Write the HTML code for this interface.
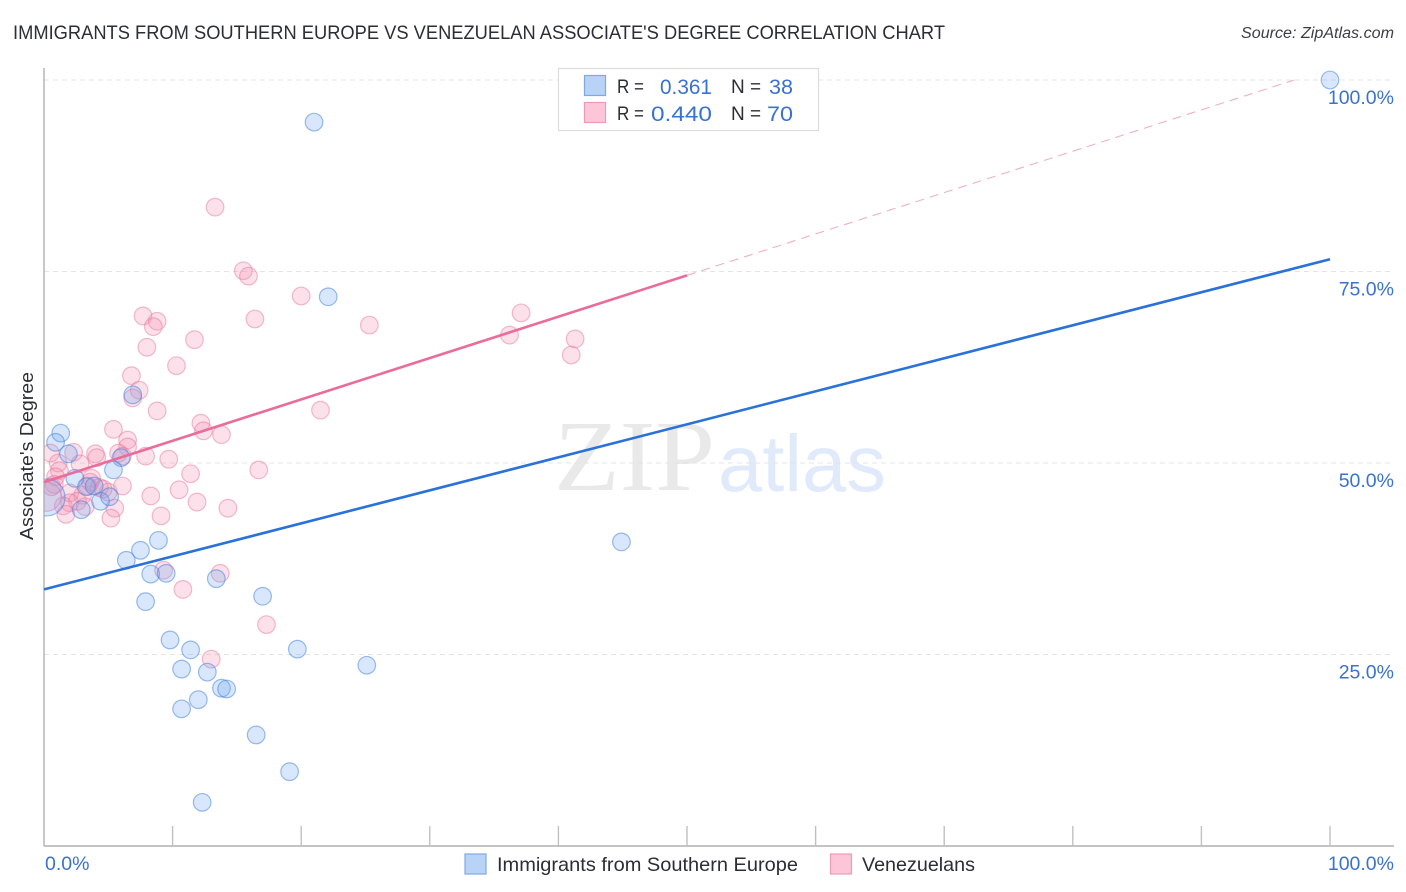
<!DOCTYPE html>
<html lang="en">
<head>
<meta charset="utf-8">
<title>Immigrants from Southern Europe vs Venezuelan Associate's Degree Correlation Chart</title>
<style>
html,body{margin:0;padding:0;background:#fff;}
svg{display:block;font-family:"Liberation Sans",sans-serif;}
</style>
</head>
<body>
<svg id="chart" width="1406" height="892" viewBox="0 0 1406 892" xmlns="http://www.w3.org/2000/svg">
  <defs><clipPath id="plot-clip"><rect x="44.5" y="60" width="1350" height="786"/></clipPath></defs>
  <rect width="1406" height="892" fill="#ffffff"/>
  <text x="13" y="39" font-size="19.5" fill="#2a2e35" textLength="932" lengthAdjust="spacingAndGlyphs">IMMIGRANTS FROM SOUTHERN EUROPE VS VENEZUELAN ASSOCIATE'S DEGREE CORRELATION CHART</text>
  <text x="1241" y="38" font-size="15.5" font-style="italic" fill="#3a3f47" textLength="153" lengthAdjust="spacingAndGlyphs">Source: ZipAtlas.com</text>
  <text x="554" y="490" font-size="101" font-family="'Liberation Serif',serif" fill="#e9e9e9" textLength="161" lengthAdjust="spacingAndGlyphs">ZIP</text>
  <text x="718" y="491" font-size="80" fill="#e0eafa" textLength="168" lengthAdjust="spacingAndGlyphs">atlas</text>
  <g id="grid"></g>
  <g id="axes"></g>
  <g id="points" clip-path="url(#plot-clip)"></g>
  <g id="trends"></g>
  <g id="labels"></g>
  <text transform="translate(33,456) rotate(-90)" font-size="18" fill="#2a2e35" text-anchor="middle" textLength="168" lengthAdjust="spacingAndGlyphs">Associate's Degree</text>

  <g>
    <rect x="558.5" y="68.5" width="260" height="62" fill="#ffffff" stroke="#dcdcdc" stroke-width="1.2"/>
    <rect x="584.5" y="75.5" width="21" height="20" fill="#b9d3f6" stroke="#7ea9e4" stroke-width="1.2"/>
    <rect x="584.5" y="102.5" width="21" height="20" fill="#fcc6d8" stroke="#f09ab8" stroke-width="1.2"/>
    <text x="617" y="93" font-size="19" fill="#2a2e35" textLength="27" lengthAdjust="spacingAndGlyphs">R =</text>
    <text x="660" y="94" font-size="21" fill="#3a72d0" textLength="52" lengthAdjust="spacingAndGlyphs">0.361</text>
    <text x="731" y="93" font-size="19" fill="#2a2e35">N =</text>
    <text x="769" y="94" font-size="21" fill="#3a72d0" textLength="24" lengthAdjust="spacingAndGlyphs">38</text>
    <text x="617" y="120" font-size="19" fill="#2a2e35" textLength="27" lengthAdjust="spacingAndGlyphs">R =</text>
    <text x="651" y="121" font-size="21" fill="#3a72d0" textLength="61" lengthAdjust="spacingAndGlyphs">0.440</text>
    <text x="731" y="120" font-size="19" fill="#2a2e35">N =</text>
    <text x="767" y="121" font-size="21" fill="#3a72d0" textLength="26" lengthAdjust="spacingAndGlyphs">70</text>
  </g>

  <g>
    <rect x="465" y="854" width="21" height="20" fill="#b9d3f6" stroke="#7ea9e4" stroke-width="1.2"/>
    <text x="497" y="871" font-size="19.5" fill="#2a2e35" textLength="301" lengthAdjust="spacingAndGlyphs">Immigrants from Southern Europe</text>
    <rect x="830.5" y="854" width="21" height="20" fill="#fcc6d8" stroke="#f09ab8" stroke-width="1.2"/>
    <text x="862" y="871" font-size="19.5" fill="#2a2e35" textLength="113" lengthAdjust="spacingAndGlyphs">Venezuelans</text>
  </g>
</svg>
<script>
// Chart data (percent values)
const blueX = [100,21.0,22.1,44.9,25.1,19.7,17.0,13.4,8.9,7.5,6.4,8.3,9.5,7.9,9.8,11.4,10.7,12.7,13.8,14.2,12.0,10.7,16.5,19.1,12.3,6.9,1.3,0.9,1.9,6.0,5.4,2.4,3.3,3.9,4.4,5.1,2.9,0.2];
const blueY = [100,94.5,71.7,39.7,23.6,25.7,32.6,34.9,39.9,38.6,37.3,35.5,35.6,31.9,26.9,25.6,23.1,22.7,20.6,20.5,19.1,17.9,14.5,9.7,5.7,58.9,53.9,52.7,51.2,50.7,49.1,48.0,46.9,47.0,45.0,45.6,43.9,45.5];
const blueWeight = [1,1,1,1,1,1,1,1,1,1,1,1,1,1,1,1,1,1,1,1,1,1,1,1,1,1,1,1,1,1,1,1,1,1,1,1,1,2.1];
const pinkX = [13.3,15.5,15.9,20.0,16.4,7.7,8.8,8.5,25.3,37.1,36.2,41.3,41.0,11.7,8.0,10.3,6.8,7.4,6.9,8.8,21.5,12.2,12.4,13.8,5.4,6.5,6.5,5.8,6.1,7.9,2.3,4.0,4.1,0.5,1.1,2.8,1.2,9.7,16.7,11.4,0.9,3.7,3.6,0.8,6.1,10.5,8.3,5.0,3.0,2.0,4.3,11.9,14.3,2.0,1.5,3.2,5.5,9.1,1.7,5.2,0.2,9.3,13.7,10.8,17.3,13.0,0.6,4.6,2.6,3.4];
const pinkY = [83.4,75.1,74.4,71.8,68.8,69.2,68.5,67.8,68.0,69.6,66.7,66.2,64.1,66.1,65.1,62.7,61.4,59.5,58.5,56.8,56.9,55.2,54.2,53.7,54.4,53.0,52.1,51.3,50.9,50.9,51.4,51.2,50.7,51.3,50.0,49.9,49.0,50.5,49.1,48.6,48.2,48.0,47.5,47.2,47.0,46.5,45.7,46.2,45.8,46.1,46.8,44.9,44.1,44.8,44.4,44.3,44.1,43.1,43.3,42.8,45.6,36.0,35.6,33.5,28.9,24.4,46.9,46.6,45.0,47.0];
const pinkWeight = [1,1,1,1,1,1,1,1,1,1,1,1,1,1,1,1,1,1,1,1,1,1,1,1,1,1,1,1,1,1,1,1,1,1,1,1,1,1,1,1,1,1,1,1,1,1,1,1,1,1,1,1,1,1,1,1,1,1,1,1,1.65,1,1,1,1,1,1,1,1,1];
const blueTrend = [33.5,76.6];
const pinkTrend = [47.5,74.5];
const pinkTrendEndX = [50];
const yTicks = [25,50,75,100];
const yTickLabels = ["25.0%","50.0%","75.0%","100.0%"];
const xTicks = [0,10,20,30,40,50,60,70,80,90,100];
const xEndLabels = ["0.0%","100.0%"];

const NS = 'http://www.w3.org/2000/svg';
const xScale = v => 44 + v * 12.86;
const yScale = v => 846 - v * 7.66;
const grid = document.getElementById('grid');
const axes = document.getElementById('axes');
const pointsG = document.getElementById('points');
const trends = document.getElementById('trends');
const labels = document.getElementById('labels');

function make(tag, parent, attrs) {
  const el = document.createElementNS(NS, tag);
  for (const k in attrs) el.setAttribute(k, attrs[k]);
  parent.appendChild(el);
  return el;
}

yTicks.forEach((t, i) => {
  const line = make('line', grid, {x1: 44, x2: 1394, y1: yScale(t), y2: yScale(t), stroke: '#e4e4e4', 'stroke-width': 1, 'stroke-dasharray': '5 4'});
  
  
  const label = make('text', labels, {x: 1394, y: yScale(t) + 24, 'font-size': 19.5, fill: '#3a72d0', 'text-anchor': 'end'});
  
  
  label.textContent = yTickLabels[i];
});

const yAxis = make('line', axes, {x1: 44, x2: 44, y1: 68, y2: 846, stroke: '#b0b0b0', 'stroke-width': 1.4});


const xAxis = make('line', axes, {x1: 44, x2: 1394, y1: 846, y2: 846, stroke: '#b0b0b0', 'stroke-width': 1.4});


xTicks.slice(1).forEach(t => {
  const tick = make('line', axes, {x1: xScale(t), x2: xScale(t), y1: 826, y2: 846, stroke: '#c0c0c0', 'stroke-width': 1.4});
  
  
});

const xLabelLeft = make('text', labels, {x: 45, y: 870, 'font-size': 19.5, fill: '#3a72d0'});


xLabelLeft.textContent = xEndLabels[0];
const xLabelRight = make('text', labels, {x: 1394, y: 870, 'font-size': 19.5, fill: '#3a72d0', 'text-anchor': 'end'});


xLabelRight.textContent = xEndLabels[1];

pinkX.forEach((x, i) => {
  const c = make('circle', pointsG, {cx: xScale(x), cy: yScale(pinkY[i]), r: 8.8 * pinkWeight[i], fill: 'rgba(244,143,177,0.27)', stroke: 'rgba(233,120,160,0.5)', 'stroke-width': 1.2});
  
  
});
blueX.forEach((x, i) => {
  const c = make('circle', pointsG, {cx: xScale(x), cy: yScale(blueY[i]), r: 8.8 * blueWeight[i], fill: 'rgba(110,165,240,0.27)', stroke: 'rgba(60,125,220,0.5)', 'stroke-width': 1.2});
  
  
});

const blueLine = make('line', trends, {x1: xScale(0), y1: yScale(blueTrend[0]), x2: xScale(100), y2: yScale(blueTrend[1]), stroke: '#2a72d8', 'stroke-width': 2.6});



const pinkSlope = (pinkTrend[1] - pinkTrend[0]) / pinkTrendEndX[0];
const pinkHitX = (100 - pinkTrend[0]) / pinkSlope;
const pinkLine = make('line', trends, {x1: xScale(0), y1: yScale(pinkTrend[0]), x2: xScale(pinkTrendEndX[0]), y2: yScale(pinkTrend[1]), stroke: '#ea6c9a', 'stroke-width': 2.6});


const pinkDash = make('line', trends, {x1: xScale(pinkTrendEndX[0]), y1: yScale(pinkTrend[1]), x2: xScale(pinkHitX), y2: yScale(100), stroke: '#eeb0c6', 'stroke-width': 1.1, 'stroke-dasharray': '9 6'});


</script>
</body>
</html>
